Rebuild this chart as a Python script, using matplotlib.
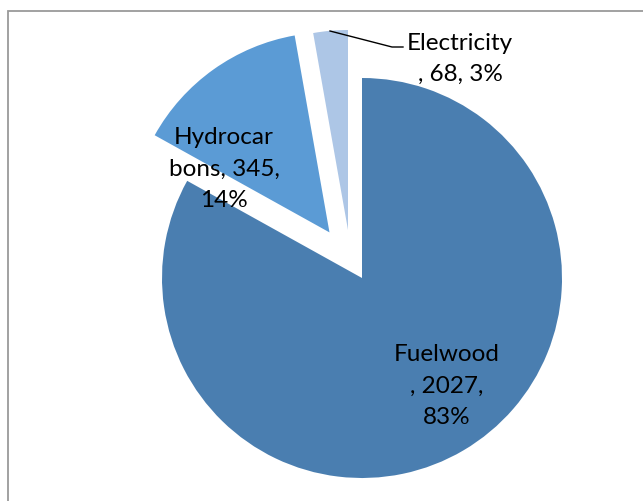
import matplotlib
matplotlib.use("Agg")
import matplotlib.pyplot as plt
from matplotlib.patches import Rectangle

# Energy consumption by source
categories = ["Fuelwood", "Hydrocarbons", "Electricity"]
values = [2027, 345, 68]
percents = [83, 14, 3]
# Label text as wrapped inside the chart
label_lines = [
    ["Fuelwood", ", 2027,", "83%"],
    ["Hydrocar", "bons, 345,", "14%"],
    ["Electricity", ", 68, 3%"],
]
colors = ["#4A7EB0", "#5B9BD5", "#ADC6E6"]

plt.rcParams["font.family"] = ["Lato", "DejaVu Sans"]

fig = plt.figure(figsize=(6.43, 5.02), dpi=100)
ax = fig.add_axes([0, 0, 1, 1])

wedges, _ = ax.pie(
    values,
    colors=colors,
    startangle=90,
    counterclock=False,
    explode=[0, 0.28, 0.25],
    radius=1.0,
    center=(0, 0),
    wedgeprops=dict(linewidth=0),
)
# The small electricity slice is pulled out a bit further to the left
wedges[2].set_center((-0.07, 0.24))

ax.set_xlim(-1.81, 1.405)
ax.set_ylim(-1.115, 1.395)
ax.set_aspect("equal")
ax.axis("off")

label_pos = [(0.425, -0.535), (-0.69, 0.55), (0.49, 1.10)]
for lines, (x, y) in zip(label_lines, label_pos):
    ax.text(x, y, "\n".join(lines), ha="center", va="center",
            fontsize=17.5, color="black", linespacing=1.6)

# Leader line for the electricity label
ax.plot([-0.16, 0.15, 0.205], [1.235, 1.155, 1.155], color="black", lw=1.0)

# Chart area border
fig.patches.append(Rectangle((8 / 643, -0.05), 1.0, 1 - 12 / 502 + 0.05,
                             transform=fig.transFigure, fill=False,
                             edgecolor="#9a9a9a", linewidth=1.3))

fig.savefig("out.png", dpi=100)
